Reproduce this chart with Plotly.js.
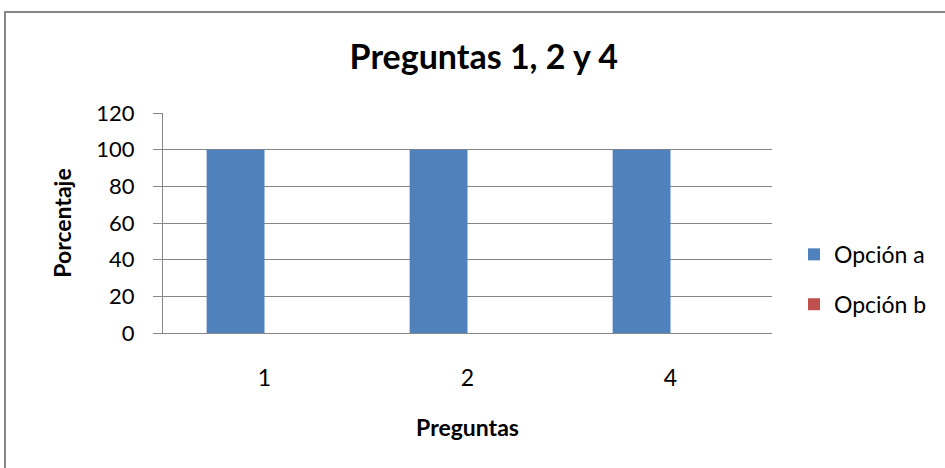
<!DOCTYPE html>
<html>
<head>
<meta charset="utf-8">
<script src="https://cdn.plot.ly/plotly-3.0.1.min.js"></script>
<style>
  html, body { margin: 0; padding: 0; background: #fff; }
  #wrap { position: relative; width: 945px; height: 468px; overflow: hidden; }
  #chart { position: absolute; left: 0; top: 0; width: 945px; height: 468px; }
  #frame { position: absolute; left: 4px; top: 11px; width: 960px; height: 480px;
           border: 2px solid #878787; pointer-events: none; box-sizing: border-box; }
</style>
</head>
<body>
<div id="wrap">
  <div id="chart"></div>
  <div id="frame"></div>
</div>
<script>
const categories = ['1', '2', '4'];
const opcionA = [100, 100, 100];
const opcionB = [0, 0, 0];
const seriesNames = ['Opción a', 'Opción b'];
const yTicks = [0, 20, 40, 60, 80, 100, 120];

const FONT = 'Lato, "Open Sans", "Liberation Sans", sans-serif';

const traces = [
  { type: 'bar', name: seriesNames[0], x: categories, y: opcionA,
    marker: { color: '#4F81BD' }, legendgroup: 'a' },
  { type: 'bar', name: seriesNames[1], x: categories, y: opcionB,
    marker: { color: '#C0504D' }, legendgroup: 'b' }
];

const layout = {
  width: 945, height: 468,
  paper_bgcolor: '#ffffff', plot_bgcolor: '#ffffff',
  margin: { l: 163, r: 173, t: 113, b: 135 },
  font: { family: FONT, color: '#000000', size: 22 },
  title: { text: '<b>Preguntas 1, 2 y 4</b>', x: 0.512, xref: 'container',
           y: 0.878, yref: 'container', yanchor: 'middle',
           font: { family: FONT, size: 34, color: '#000000' } },
  barmode: 'group', bargap: 0.43, bargroupgap: 0,
  xaxis: { type: 'category', showline: true, linecolor: '#868686', linewidth: 1,
           ticks: '', showgrid: false, ticklabelstandoff: 24,
           tickfont: { size: 23 },
           title: { text: '<b>Preguntas</b>', standoff: 30, font: { size: 23 } } },
  yaxis: { range: [0, 120], tickvals: yTicks, showline: true, linecolor: '#868686', linewidth: 1,
           ticks: 'outside', ticklen: 9, tickcolor: '#868686',
           showgrid: true, gridcolor: '#868686', gridwidth: 1, zeroline: false,
           ticklabelstandoff: 14, tickfont: { size: 22 },
           title: { text: '<b>Porcentaje</b>', standoff: 18, font: { size: 23 } } },
  legend: { x: 794 / 945, xref: 'container', xanchor: 'left',
            y: 0.403, yref: 'container', yanchor: 'middle',
            traceorder: 'grouped', tracegroupgap: 17,
            font: { size: 23 }, bgcolor: 'rgba(0,0,0,0)' },
  showlegend: true
};

Plotly.newPlot('chart', traces, layout, { displayModeBar: false, staticPlot: true });
</script>
</body>
</html>
